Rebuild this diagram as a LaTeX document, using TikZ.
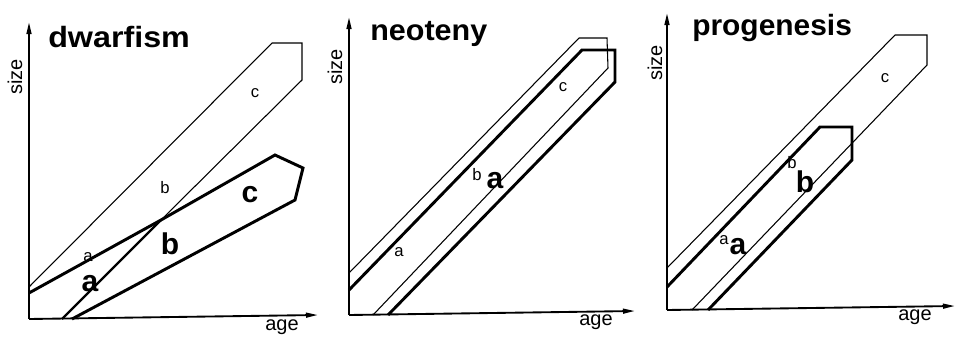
\documentclass[tikz,border=0pt]{standalone}
\usepackage{fontspec}
\setmainfont{Liberation Sans}
\usetikzlibrary{arrows.meta}
\begin{document}
\begin{tikzpicture}[x=0.75pt,y=-0.75pt,
  axis/.style={line width=1.4pt,-{Triangle[length=9pt,width=3.6pt]}},
  thinline/.style={line width=0.8pt,line join=miter},
  midline/.style={line width=1.6pt},
  thickline/.style={line width=2.2pt,line join=miter},
  title/.style={font=\bfseries\fontsize{22}{24}\selectfont,anchor=base west,inner sep=0pt},
  biglab/.style={font=\bfseries\fontsize{22.5}{24}\selectfont,inner sep=0pt},
  smalllab/.style={font=\fontsize{12.5}{14}\selectfont,inner sep=0pt},
  axlab/.style={font=\fontsize{15}{16}\selectfont,inner sep=0pt}]
\useasboundingbox (0,0) rectangle (960,336);

% ---------------- panel 1: dwarfism ----------------
\coordinate (o1) at (29,319);
\coordinate (yt1) at (29,22);
\coordinate (xe1) at (318,315);
\draw[axis] (o1) -- (yt1);
\draw[axis] (o1) -- (xe1);
\coordinate (X1) at (161,220);
% normal growth band (thin)
\draw[thinline] (29,287) -- (272,43) -- (302,43) -- (302,80) -- (X1);
\draw[midline] (X1) -- (62,319);
% dwarf band (thick)
\draw[thickline] (29,293) -- (X1) -- (275,155) -- (303,168) -- (295,200) -- (72,319);
\node[title] (t1) at (48,47) {\scalebox{1.1}[1]{dwarfism}};
\node[axlab,rotate=90] (s1) at (15,77) {size};
\node[axlab] (g1) at (282,327) {age};
\node[smalllab] (a1s) at (88,257) {a};
\node[biglab] (a1b) at (90,284) {a};
\node[smalllab] (b1s) at (165,188) {b};
\node[biglab] (b1b) at (170,244) {b};
\node[smalllab] (c1s) at (255,93) {c};
\node[biglab] (c1b) at (250,195) {c};

% ---------------- panel 2: neoteny ----------------
\coordinate (o2) at (349,315);
\coordinate (yt2) at (349,17);
\coordinate (xe2) at (635,311);
\draw[axis] (o2) -- (yt2);
\draw[axis] (o2) -- (xe2);
\draw[thinline] (349,273) -- (579,38) -- (607,38) -- (608,68) -- (373,315);
\draw[thickline] (349,290) -- (582,50) -- (615,50) -- (615,82) -- (388,315);
\node[title] (t2) at (370,40) {\scalebox{1.04}[1]{neoteny}};
\node[axlab,rotate=90] (s2) at (335,67) {size};
\node[axlab] (g2) at (596,322) {age};
\node[smalllab] (a2s) at (399,252) {a};
\node[smalllab] (b2s) at (477,175) {b};
\node[biglab] (a2b) at (495,181) {a};
\node[smalllab] (c2s) at (563,87) {c};

% ---------------- panel 3: progenesis ----------------
\coordinate (o3) at (667,310);
\coordinate (yt3) at (667,13);
\coordinate (xe3) at (955,306);
\draw[axis] (o3) -- (yt3);
\draw[axis] (o3) -- (xe3);
\draw[thinline] (667,268) -- (895,35) -- (927,35) -- (927,65) -- (692,310);
\draw[thickline] (667,287) -- (820,127) -- (852,127) -- (852,160) -- (708,310);
\node[title] (t3) at (692,35) {\scalebox{1.02}[1]{progenesis}};
\node[axlab,rotate=90] (s3) at (655,63) {size};
\node[axlab] (g3) at (915,317) {age};
\node[smalllab] (a3s) at (724,240) {a};
\node[biglab] (a3b) at (738,247) {a};
\node[smalllab] (b3s) at (792,163) {b};
\node[biglab] (b3b) at (805,182) {b};
\node[smalllab] (c3s) at (885,78) {c};
\end{tikzpicture}
\end{document}
